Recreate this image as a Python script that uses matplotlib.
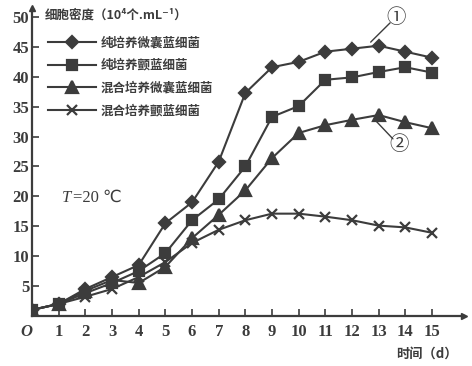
import matplotlib
matplotlib.use("Agg")
import matplotlib.pyplot as plt
import numpy as np

plt.rcParams["font.family"] = ["Noto Sans CJK SC", "DejaVu Sans"]

days = np.arange(0, 16)
pure_micro = [1.0, 2.0, 4.5, 6.5, 8.5, 15.5, 19.0, 25.8, 37.3, 41.6, 42.5, 44.2, 44.7, 45.2, 44.2, 43.2]
pure_fila = [1.0, 2.0, 3.8, 5.5, 7.5, 10.5, 16.0, 19.5, 25.0, 33.3, 35.1, 39.5, 39.9, 40.8, 41.6, 40.7]
mix_micro = [1.0, 2.0, 4.2, 6.0, 5.5, 8.2, 13.0, 16.9, 21.0, 26.4, 30.6, 31.9, 32.8, 33.6, 32.4, 31.4]
mix_fila = [1.0, 2.0, 3.2, 4.5, 6.5, 9.0, 12.2, 14.4, 16.0, 17.1, 17.1, 16.6, 16.0, 15.1, 14.8, 13.9]
labels = ["纯培养微囊蓝细菌", "纯培养颤蓝细菌", "混合培养微囊蓝细菌", "混合培养颤蓝细菌"]
markers = ["D", "s", "^", "x"]
msizes = [6.5, 7.5, 8, 7]
yticks = [5, 10, 15, 20, 25, 30, 35, 40, 45, 50]

ink = "#3c3c3c"
fig = plt.figure(figsize=(4.72, 3.66), dpi=100)
ax = fig.add_axes([0.068, 0.137, 0.915, 0.841])

series = [pure_micro, pure_fila, mix_micro, mix_fila]
handles = []
for vals, m, ms, lab in zip(series, markers, msizes, labels):
    h, = ax.plot(days, vals, color=ink, marker=m, markersize=ms, lw=1.5,
                 mew=1.6, label=lab)
    handles.append(h)

ax.set_xlim(0, 16.2)
ax.set_ylim(0, 51.5)
for s in ["top", "right"]:
    ax.spines[s].set_visible(False)
for s in ["left", "bottom"]:
    ax.spines[s].set_color(ink)
    ax.spines[s].set_linewidth(1.6)
ax.plot(1, 0, ">", color=ink, ms=5, transform=ax.get_yaxis_transform(), clip_on=False)
ax.plot(0, 1, "^", color=ink, ms=5, transform=ax.get_xaxis_transform(), clip_on=False)

ax.set_xticks(days)
ax.set_xticklabels(["O"] + [str(d) for d in days[1:]])
ax.set_yticks(yticks)
ax.tick_params(direction="in", length=5, width=1.2, color=ink, labelcolor=ink)
for t in ax.get_xticklabels() + ax.get_yticklabels():
    t.set_fontfamily("Liberation Serif")
    t.set_fontsize(12)
    t.set_fontweight("bold")
ax.get_xticklabels()[0].set_fontstyle("italic")
ax.get_xticklabels()[0].set_ha("right")
ax.tick_params(axis="x", pad=6)
ax.tick_params(axis="y", pad=2)

leg = ax.legend(handles=handles, loc="upper left", bbox_to_anchor=(0.01, 0.945),
                frameon=False, handlelength=3.9, handletextpad=0.35,
                labelspacing=0.78, prop={"size": 9, "weight": "bold"})
for t in leg.get_texts():
    t.set_color(ink)

fig.text(0.095, 0.958, "细胞密度（10⁴个.mL⁻¹）", fontsize=9, fontweight="bold",
         color=ink, va="center")
fig.text(0.97, 0.035, "时间（d）", fontsize=9.5, fontweight="bold", color=ink,
         ha="right", va="center")
ax.text(1.1, 19.8, "T", fontsize=12, color=ink, family="Liberation Serif",
        style="italic", va="center")
ax.text(1.55, 19.8, "=20 ℃", fontsize=12, color=ink,
        family=["Liberation Serif", "DejaVu Sans"], va="center")

ax.annotate("①", xy=(12.7, 45.8), xytext=(13.65, 50.0), fontsize=14, color=ink,
            ha="center", va="center",
            arrowprops=dict(arrowstyle="-", color=ink, lw=1, patchA=None,
                            shrinkA=6, shrinkB=0))
ax.annotate("②", xy=(12.9, 32.6), xytext=(13.75, 28.6), fontsize=14, color=ink,
            ha="center", va="center",
            arrowprops=dict(arrowstyle="-", color=ink, lw=1, patchA=None,
                            shrinkA=6, shrinkB=0))

fig.savefig("out.png", dpi=100)
